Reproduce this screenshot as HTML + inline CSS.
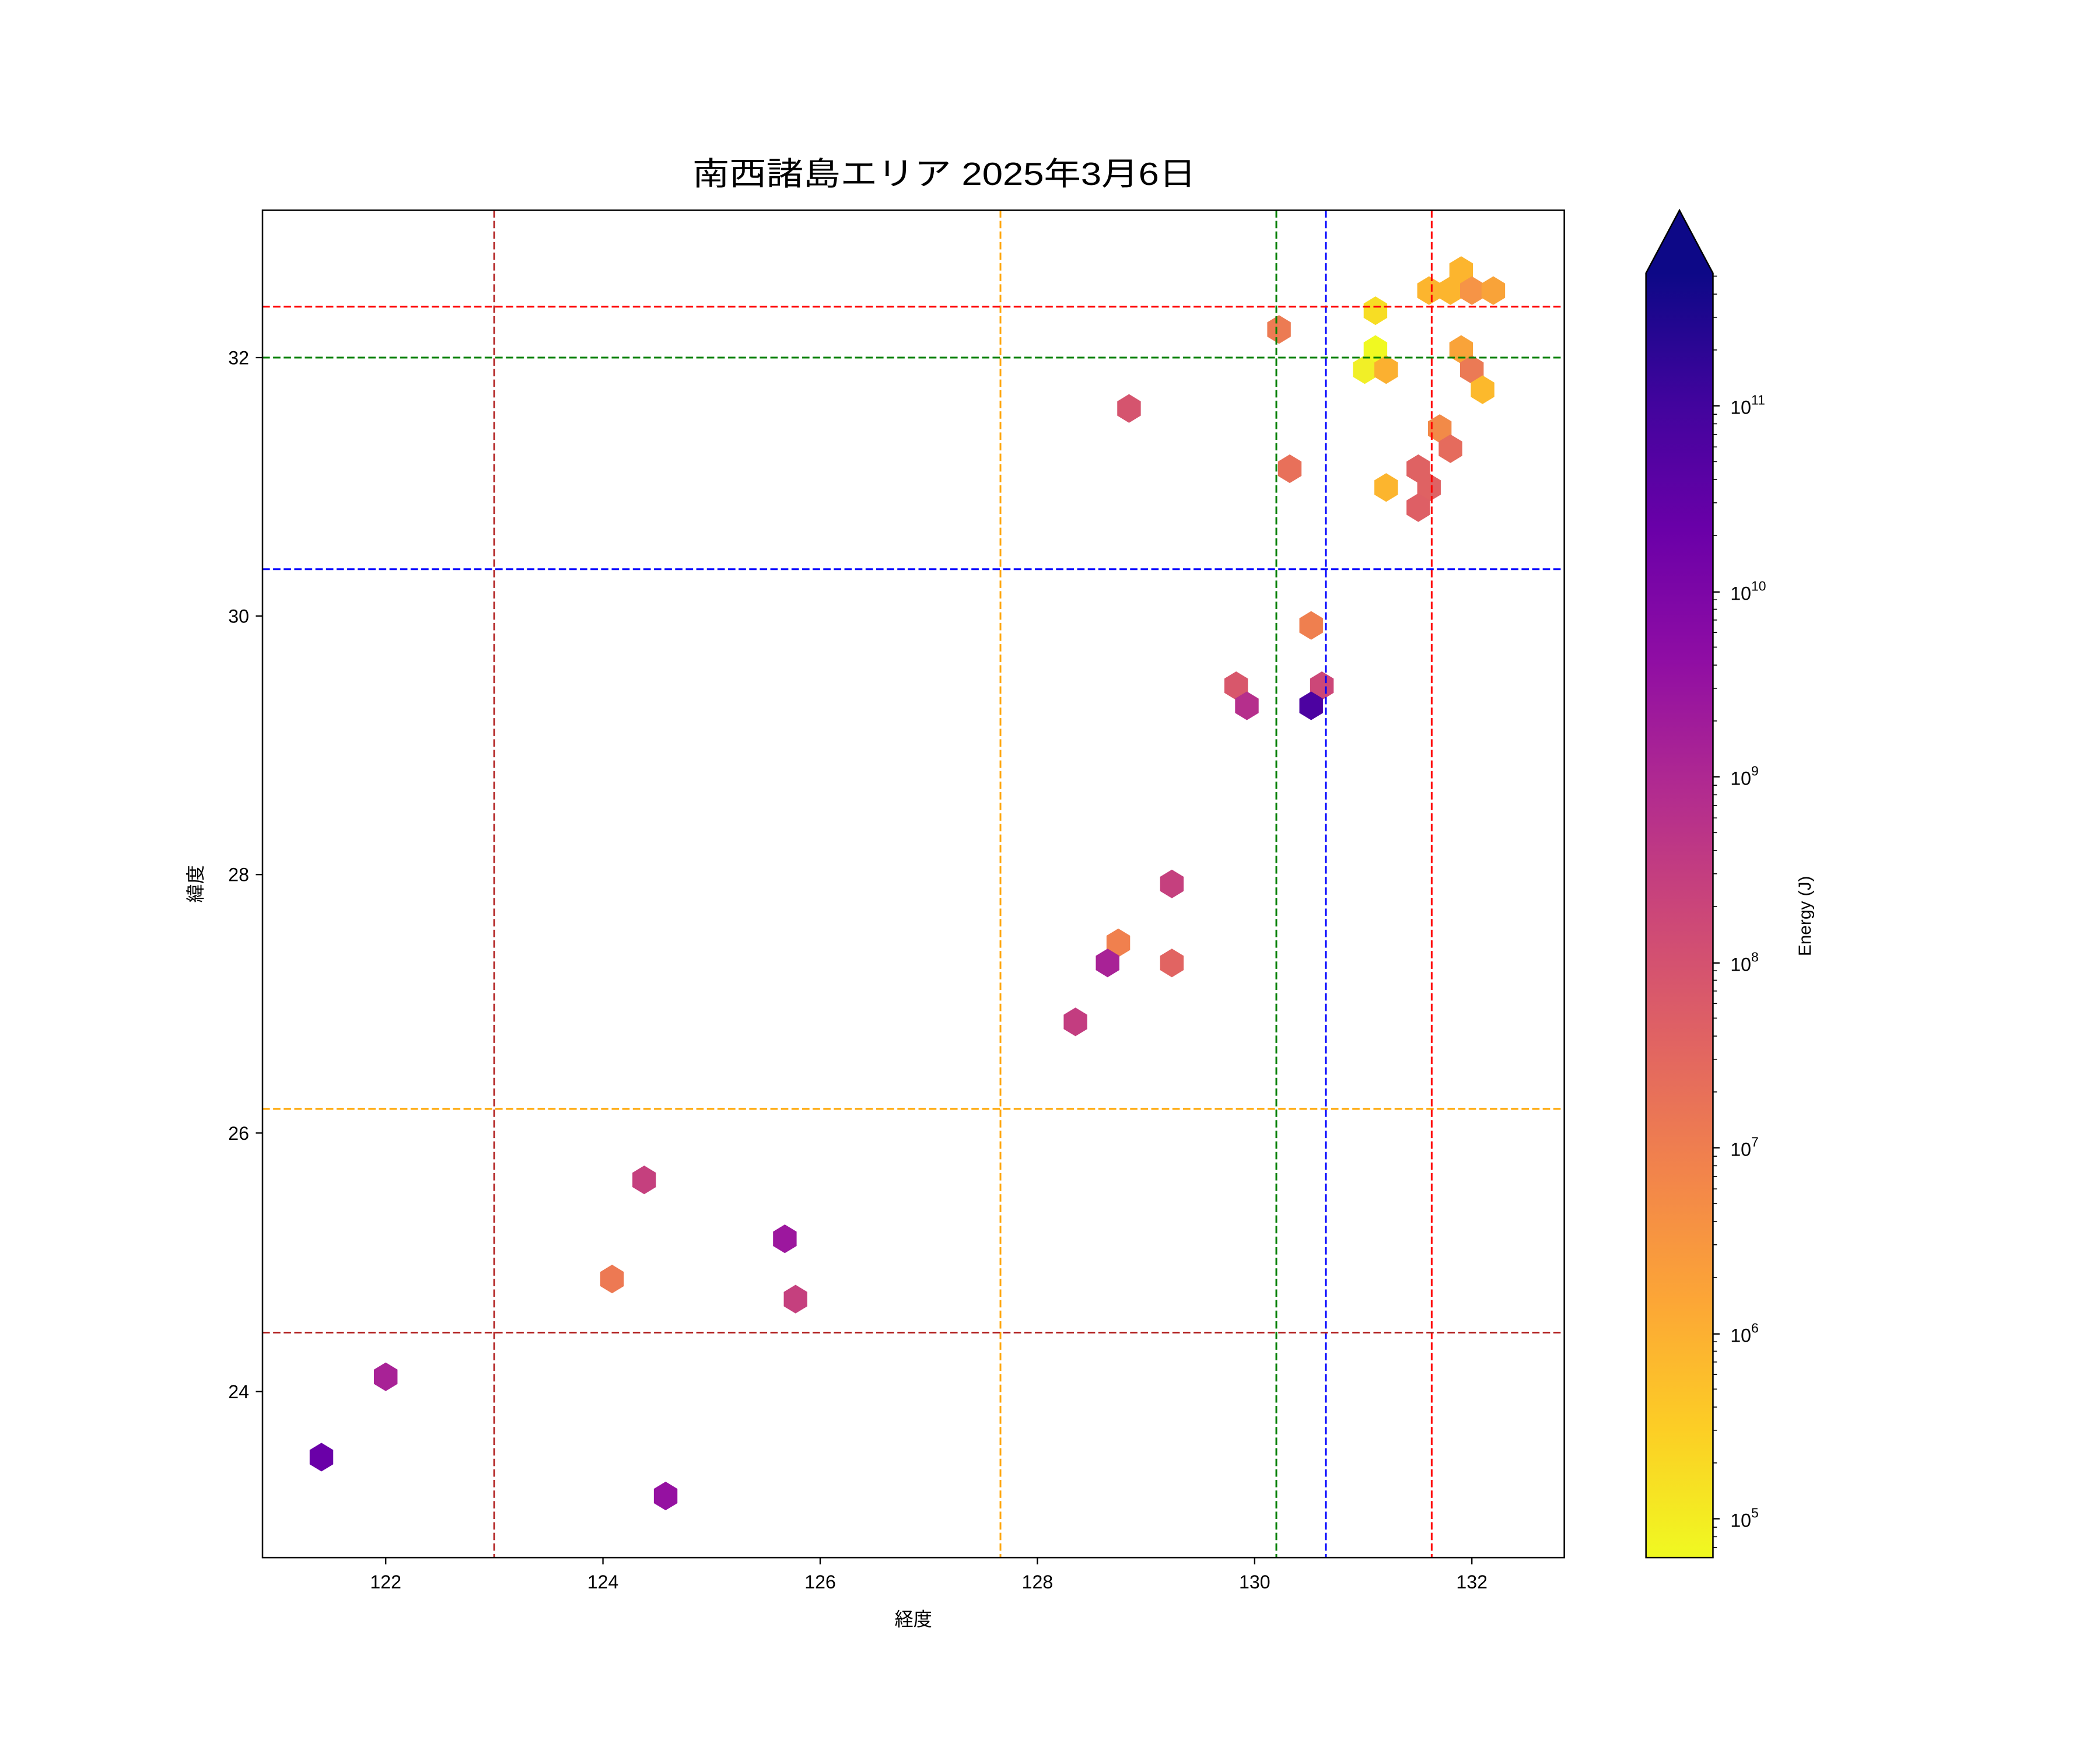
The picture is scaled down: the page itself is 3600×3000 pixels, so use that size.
<!DOCTYPE html>
<html><head><meta charset="utf-8"><style>
html,body{margin:0;padding:0;background:#fff}
svg{display:block}
text{font-family:"Liberation Sans","Noto Sans CJK JP",sans-serif;fill:#000}
</style></head><body>
<svg width="3600" height="3000" viewBox="0 0 1568 1306.67" xmlns="http://www.w3.org/2000/svg">
<defs>
<polygon id="h" points="0,-10.7 8.8,-5.35 8.8,5.35 0,10.7 -8.8,5.35 -8.8,-5.35"/>
<linearGradient id="pl" gradientUnits="userSpaceOnUse" x1="0" y1="1163" x2="0" y2="204">
<stop offset="0" stop-color="#f0f921"/><stop offset="0.1" stop-color="#fcce25"/>
<stop offset="0.2" stop-color="#fca636"/><stop offset="0.3" stop-color="#f2844b"/>
<stop offset="0.4" stop-color="#e16462"/><stop offset="0.5" stop-color="#cc4778"/>
<stop offset="0.6" stop-color="#b12a90"/><stop offset="0.7" stop-color="#8f0da4"/>
<stop offset="0.8" stop-color="#6a00a8"/><stop offset="0.9" stop-color="#41049d"/>
<stop offset="1" stop-color="#0d0887"/>
</linearGradient>
</defs>
<rect width="1568" height="1307" fill="#fff"/>
<text x="705" y="138" font-size="24" text-anchor="middle" textLength="376" lengthAdjust="spacingAndGlyphs">南西諸島エリア 2025年3月6日</text>
<g>
<use href="#h" x="1027" y="232" fill="#f7dd24"/>
<use href="#h" x="1067" y="217" fill="#fcb52e"/>
<use href="#h" x="1083" y="217" fill="#fcb52e"/>
<use href="#h" x="1091" y="202" fill="#fcb52e"/>
<use href="#h" x="1099" y="217" fill="#f69446"/>
<use href="#h" x="1115" y="217" fill="#f9a339"/>
<use href="#h" x="955" y="246" fill="#ec7b53"/>
<use href="#h" x="1027" y="261" fill="#f0f921"/>
<use href="#h" x="1019" y="276" fill="#f1ef27"/>
<use href="#h" x="1035" y="276" fill="#fbb030"/>
<use href="#h" x="1091" y="261" fill="#f9a339"/>
<use href="#h" x="1099" y="276" fill="#eb7a55"/>
<use href="#h" x="1107" y="291" fill="#fcb92c"/>
<use href="#h" x="843" y="305" fill="#d5546e"/>
<use href="#h" x="1075" y="320" fill="#f28a48"/>
<use href="#h" x="1083" y="335" fill="#e56b5d"/>
<use href="#h" x="963" y="350" fill="#e8705a"/>
<use href="#h" x="1059" y="350" fill="#df6263"/>
<use href="#h" x="1067" y="364" fill="#df6263"/>
<use href="#h" x="1035" y="364" fill="#fcb52e"/>
<use href="#h" x="1059" y="379" fill="#de5f65"/>
<use href="#h" x="979" y="467" fill="#ef7f4f"/>
<use href="#h" x="923" y="512" fill="#d8576b"/>
<use href="#h" x="987" y="512" fill="#cc4778"/>
<use href="#h" x="931" y="527" fill="#b52f8c"/>
<use href="#h" x="979" y="527" fill="#4c02a1"/>
<use href="#h" x="875" y="660" fill="#c5407e"/>
<use href="#h" x="835" y="704" fill="#f0804e"/>
<use href="#h" x="827" y="719" fill="#a82296"/>
<use href="#h" x="875" y="719" fill="#e16462"/>
<use href="#h" x="803" y="763" fill="#c33d80"/>
<use href="#h" x="481" y="881" fill="#c5407e"/>
<use href="#h" x="457" y="955" fill="#ed7953"/>
<use href="#h" x="586" y="925" fill="#9c179e"/>
<use href="#h" x="594" y="970" fill="#c5407e"/>
<use href="#h" x="288" y="1028" fill="#a82296"/>
<use href="#h" x="240" y="1088" fill="#6a00a8"/>
<use href="#h" x="497" y="1117" fill="#9511a1"/>
</g>
<g fill="none" stroke-width="1.3" stroke-dasharray="5.5 2.4">
<line x1="369" y1="157" x2="369" y2="1163" stroke="#b22222"/>
<line x1="747" y1="157" x2="747" y2="1163" stroke="#ffa500"/>
<line x1="953" y1="157" x2="953" y2="1163" stroke="#008000"/>
<line x1="990" y1="157" x2="990" y2="1163" stroke="#0000ff"/>
<line x1="1069" y1="157" x2="1069" y2="1163" stroke="#ff0000"/>
<line x1="196" y1="229" x2="1168" y2="229" stroke="#ff0000"/>
<line x1="196" y1="267" x2="1168" y2="267" stroke="#008000"/>
<line x1="196" y1="425" x2="1168" y2="425" stroke="#0000ff"/>
<line x1="196" y1="828" x2="1168" y2="828" stroke="#ffa500"/>
<line x1="196" y1="995" x2="1168" y2="995" stroke="#b22222"/>
</g>
<rect x="196" y="157" width="972" height="1006" fill="none" stroke="#000" stroke-width="1.1"/>
<g stroke="#000" stroke-width="1">
<line x1="288" y1="1163" x2="288" y2="1168"/><line x1="450.2" y1="1163" x2="450.2" y2="1168"/>
<line x1="612.4" y1="1163" x2="612.4" y2="1168"/><line x1="774.6" y1="1163" x2="774.6" y2="1168"/>
<line x1="936.8" y1="1163" x2="936.8" y2="1168"/><line x1="1099" y1="1163" x2="1099" y2="1168"/>
<line x1="191" y1="267" x2="196" y2="267"/><line x1="191" y1="460" x2="196" y2="460"/>
<line x1="191" y1="653" x2="196" y2="653"/><line x1="191" y1="846" x2="196" y2="846"/>
<line x1="191" y1="1039" x2="196" y2="1039"/>
</g>
<g font-size="14" text-anchor="middle">
<text x="288" y="1186">122</text><text x="450.2" y="1186">124</text><text x="612.4" y="1186">126</text>
<text x="774.6" y="1186">128</text><text x="936.8" y="1186">130</text><text x="1099" y="1186">132</text>
</g>
<g font-size="14" text-anchor="end">
<text x="186" y="272">32</text><text x="186" y="465">30</text><text x="186" y="658">28</text>
<text x="186" y="851">26</text><text x="186" y="1044">24</text>
</g>
<text x="682" y="1214" font-size="14" text-anchor="middle">経度</text>
<text transform="translate(151,660) rotate(-90)" font-size="14" text-anchor="middle">緯度</text>
<polygon points="1229,1163 1229,204 1279,204 1279,1163" fill="url(#pl)"/>
<polygon points="1229,204.5 1254,157 1279,204.5" fill="#0d0887"/>
<polygon points="1229,1163 1229,204 1254,157 1279,204 1279,1163" fill="none" stroke="#000" stroke-width="1.1"/>
<g stroke="#000" stroke-width="1">
<line x1="1279" y1="1134" x2="1284" y2="1134"/><line x1="1279" y1="996" x2="1284" y2="996"/>
<line x1="1279" y1="857" x2="1284" y2="857"/><line x1="1279" y1="719" x2="1284" y2="719"/>
<line x1="1279" y1="580" x2="1284" y2="580"/><line x1="1279" y1="442" x2="1284" y2="442"/>
<line x1="1279" y1="303" x2="1284" y2="303"/>
</g>
<g stroke="#000" stroke-width="0.7" id="minor"></g>
<g font-size="14">
<text x="1292" y="1140">10<tspan font-size="10" dy="-7">5</tspan></text>
<text x="1292" y="1002">10<tspan font-size="10" dy="-7">6</tspan></text>
<text x="1292" y="863">10<tspan font-size="10" dy="-7">7</tspan></text>
<text x="1292" y="725">10<tspan font-size="10" dy="-7">8</tspan></text>
<text x="1292" y="586">10<tspan font-size="10" dy="-7">9</tspan></text>
<text x="1292" y="448">10<tspan font-size="10" dy="-7">10</tspan></text>
<text x="1292" y="309">10<tspan font-size="10" dy="-7">11</tspan></text>
</g>
<text transform="translate(1352,684) rotate(-90)" font-size="13" text-anchor="middle">Energy (J)</text>
</svg>
<script>
(function(){var g=document.getElementById('minor');var s='';
for(var d=4;d<=11;d++){for(var m=2;m<=9;m++){var v=d+Math.log10(m);var y=1134-(v-5)*138.5;
if(y<1163&&y>204){s+='<line x1="1279" y1="'+y+'" x2="1282" y2="'+y+'"/>';}}}
g.innerHTML=s;})();
</script>
</body></html>
